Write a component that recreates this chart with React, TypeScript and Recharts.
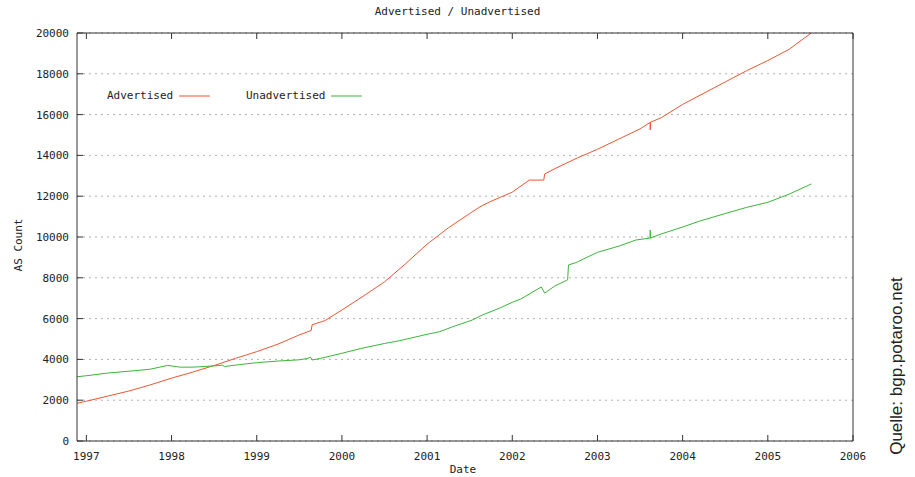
import React from "react";
import { LineChart, Line, XAxis, YAxis, CartesianGrid } from "recharts";

// values (year as decimal, AS count)
const advYears = [
  1996.89, 1997.0, 1997.25, 1997.5, 1997.75, 1998.0, 1998.25, 1998.5, 1998.75,
  1999.0, 1999.25, 1999.5, 1999.64, 1999.65, 1999.8, 2000.0, 2000.25, 2000.5,
  2000.75, 2001.0, 2001.25, 2001.5, 2001.62, 2001.75, 2002.0, 2002.2, 2002.37,
  2002.38, 2002.5, 2002.75, 2003.0, 2003.25, 2003.5, 2003.62, 2003.62, 2003.62,
  2003.75, 2004.0, 2004.25, 2004.5, 2004.75, 2005.0, 2005.25, 2005.51,
];
const advCount = [
  1850, 1950, 2200, 2450, 2750, 3080, 3380, 3700, 4050,
  4380, 4750, 5200, 5420, 5700, 5900, 6420, 7100, 7800,
  8700, 9650, 10450, 11150, 11480, 11750, 12200, 12790, 12790,
  13090, 13350, 13850, 14300, 14800, 15300, 15620, 15250, 15620,
  15850, 16500, 17050, 17600, 18150, 18650, 19200, 20000,
];

const unadvYears = [
  1996.89, 1997.0, 1997.25, 1997.5, 1997.75, 1997.95, 1998.0, 1998.1, 1998.25,
  1998.5, 1998.6, 1998.62, 1998.75, 1999.0, 1999.25, 1999.5, 1999.6, 1999.63,
  1999.65, 1999.75, 2000.0, 2000.25, 2000.5, 2000.68, 2001.0, 2001.15, 2001.3,
  2001.53, 2001.65, 2001.85, 2002.0, 2002.1, 2002.34, 2002.38, 2002.5, 2002.65,
  2002.66, 2002.75, 2003.0, 2003.25, 2003.45, 2003.62, 2003.62, 2003.62, 2003.75,
  2004.0, 2004.2, 2004.5, 2004.75, 2005.0, 2005.25, 2005.51,
];
const unadvCount = [
  3150, 3200, 3330, 3420, 3520, 3700, 3680, 3620, 3620,
  3680, 3720, 3650, 3720, 3840, 3920, 3980, 4050, 4110,
  3970, 4050, 4300, 4560, 4780, 4920, 5230, 5360, 5600,
  5930, 6180, 6510, 6800, 6960, 7550, 7250, 7600, 7900,
  8630, 8750, 9250, 9550, 9850, 9950, 10340, 9950, 10150,
  10490, 10780, 11150, 11450, 11700, 12100, 12600,
];

const yearTicks = [1997, 1998, 1999, 2000, 2001, 2002, 2003, 2004, 2005, 2006];
const countTicks = [0, 2000, 4000, 6000, 8000, 10000, 12000, 14000, 16000, 18000, 20000];

const advData = advYears.map((x, i) => ({ x, y: advCount[i] }));
const unadvData = unadvYears.map((x, i) => ({ x, y: unadvCount[i] }));

const RED = "#ee5533";
const GREEN = "#3cb43c";
const MONO = "'DejaVu Sans Mono', monospace";
const tickStyle = { fontFamily: MONO, fontSize: 11, fill: "#222" };

const noLabel = () => <g />;

// gnuplot style key: name first, then the line sample
function GnuLegend() {
  const item = (name: string, color: string, textW: number) => (
    <div style={{ display: "flex", alignItems: "center", marginRight: 35 }}>
      <span style={{ fontFamily: MONO, fontSize: 11, color: "#222", width: textW }}>
        {name}
      </span>
      <svg width={38} height={6}>
        <line x1={6} y1={3} x2={37} y2={3} stroke={color} strokeWidth={1} />
      </svg>
    </div>
  );
  return (
    <div style={{ position: "absolute", top: 89, left: 107, display: "flex" }}>
      {item("Advertised", RED, 66)}
      {item("Unadvertised", GREEN, 79)}
    </div>
  );
}

const textBase = {
  position: "absolute" as const,
  fontFamily: MONO,
  fontSize: 11,
  color: "#222",
  whiteSpace: "nowrap" as const,
};

export default function App() {
  return (
    <div
      style={{
        position: "fixed",
        top: 0,
        left: 0,
        width: 915,
        height: 477,
        background: "#fff",
        overflow: "hidden",
      }}
    >
      <LineChart
        width={915}
        height={477}
        margin={{ top: 3, right: 12, bottom: 6, left: 17 }}
      >
        <CartesianGrid
          vertical={false}
          stroke="#b0b0b0"
          strokeDasharray="2 4"
          yAxisId="left"
          xAxisId="bottom"
        />
        <XAxis
          xAxisId="bottom"
          type="number"
          dataKey="x"
          domain={[1996.89, 2006]}
          ticks={yearTicks}
          allowDataOverflow
          orientation="bottom"
          height={30}
          tickSize={-6}
          tickMargin={17}
          tick={tickStyle}
          stroke="#333"
        />
        <XAxis
          xAxisId="top"
          type="number"
          dataKey="x"
          domain={[1996.89, 2006]}
          ticks={yearTicks}
          allowDataOverflow
          orientation="top"
          height={30}
          tickSize={-6}
          tick={noLabel}
          stroke="#333"
        />
        <YAxis
          yAxisId="left"
          type="number"
          domain={[0, 20000]}
          ticks={countTicks}
          width={60}
          tickSize={-6}
          tickMargin={14}
          tick={tickStyle}
          stroke="#333"
        />
        <YAxis
          yAxisId="right"
          orientation="right"
          type="number"
          domain={[0, 20000]}
          ticks={countTicks}
          width={50}
          tickSize={-6}
          tick={noLabel}
          stroke="#333"
        />
        <Line
          xAxisId="bottom"
          yAxisId="left"
          data={advData}
          dataKey="y"
          name="Advertised"
          type="linear"
          stroke={RED}
          strokeWidth={1}
          dot={false}
          isAnimationActive={false}
        />
        <Line
          xAxisId="bottom"
          yAxisId="left"
          data={unadvData}
          dataKey="y"
          name="Unadvertised"
          type="linear"
          stroke={GREEN}
          strokeWidth={1}
          dot={false}
          isAnimationActive={false}
        />
      </LineChart>

      <GnuLegend />

      <div style={{ ...textBase, top: 5, left: 0, width: 915, textAlign: "center" }}>
        Advertised / Unadvertised
      </div>
      <div
        style={{
          ...textBase,
          left: 18,
          top: 245,
          transform: "translate(-50%, -50%) rotate(-90deg)",
        }}
      >
        AS Count
      </div>
      <div style={{ ...textBase, top: 463, left: 0, width: 926, textAlign: "center" }}>
        Date
      </div>
      <div
        style={{
          position: "absolute",
          left: 897,
          top: 366,
          transform: "translate(-50%, -50%) rotate(-90deg)",
          fontFamily: "'Liberation Sans', Arial, sans-serif",
          fontSize: 17,
          color: "#222",
          whiteSpace: "nowrap",
        }}
      >
        Quelle: bgp.potaroo.net
      </div>
    </div>
  );
}
